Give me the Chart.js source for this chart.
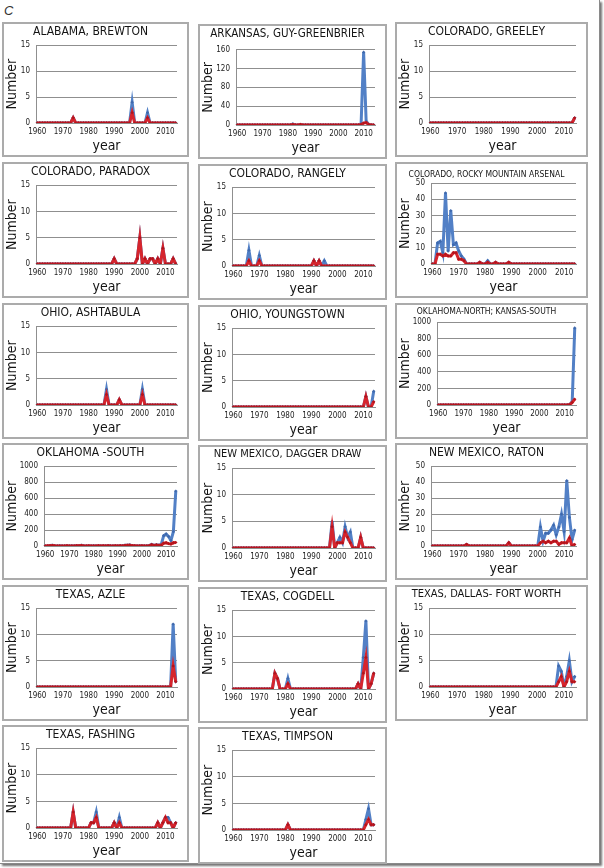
<!DOCTYPE html>
<html>
<head>
<meta charset="utf-8">
<script src="https://cdn.jsdelivr.net/npm/chart.js@4.4.0/dist/chart.umd.min.js"></script>
<style>
  body { margin: 0; background: #fff; }
  #page { position: relative; width: 604px; height: 868px; overflow: hidden; }
  #frame { position: absolute; left: 0; top: 0; width: 599px; height: 863px;
           border-right: 1px solid #8a8a8a; border-bottom: 1px solid #8a8a8a;
           box-shadow: 2px 2px 2px rgba(0,0,0,0.55); }
  #letter { position: absolute; left: 4px; top: 3px; font: italic 13px 'Liberation Sans', Arial, sans-serif; color: #333; }
  .panel { position: absolute; border: 2px solid #ababab; background: #fff; box-sizing: border-box; }
  .panel canvas { display: block; }
</style>
</head>
<body>
<div id="page">
  <div id="frame"></div>
  <div id="letter">C</div>
</div>
<script>
const years = [
  1960,1961,1962,1963,1964,1965,1966,1967,1968,1969,
  1970,1971,1972,1973,1974,1975,1976,1977,1978,1979,
  1980,1981,1982,1983,1984,1985,1986,1987,1988,1989,
  1990,1991,1992,1993,1994,1995,1996,1997,1998,1999,
  2000,2001,2002,2003,2004,2005,2006,2007,2008,2009,
  2010,2011,2012,2013,2014
];

// blue = total, red = drawn on top; one value per year 1960-2014
const brewtonBlue = [0,0,0,0,0,0,0,0,0,0, 0,0,0,0,1,0,0,0,0,0, 0,0,0,0,0,0,0,0,0,0, 0,0,0,0,0,0,0,4,0,0, 0,0,0,2,0,0,0,0,0,0, 0,0,0,0,0];
const brewtonRed  = [0,0,0,0,0,0,0,0,0,0, 0,0,0,0,1,0,0,0,0,0, 0,0,0,0,0,0,0,0,0,0, 0,0,0,0,0,0,0,2,0,0, 0,0,0,1,0,0,0,0,0,0, 0,0,0,0,0];

const guyBlue = [0,0,0,0,0,0,0,0,0,0, 0,0,0,0,0,0,0,0,0,0, 0,0,2,0,0,1,0,0,0,0, 0,0,0,0,0,0,0,0,0,0, 0,0,0,0,0,0,0,0,0,2, 155,8,1,0,0];
const guyRed  = [0,0,0,0,0,0,0,0,0,0, 0,0,0,0,0,0,0,0,0,0, 0,0,1,0,0,1,0,0,0,0, 0,0,0,0,0,0,0,0,0,0, 0,0,0,0,0,0,0,0,0,1, 4,5,1,0,0];

const greeleyBlue = [0,0,0,0,0,0,0,0,0,0, 0,0,0,0,0,0,0,0,0,0, 0,0,0,0,0,0,0,0,0,0, 0,0,0,0,0,0,0,0,0,0, 0,0,0,0,0,0,0,0,0,0, 0,0,0,0,1];
const greeleyRed  = [0,0,0,0,0,0,0,0,0,0, 0,0,0,0,0,0,0,0,0,0, 0,0,0,0,0,0,0,0,0,0, 0,0,0,0,0,0,0,0,0,0, 0,0,0,0,0,0,0,0,0,0, 0,0,0,0,1];

const paradoxBlue = [0,0,0,0,0,0,0,0,0,0, 0,0,0,0,0,0,0,0,0,0, 0,0,0,0,0,0,0,0,0,0, 1,0,0,0,0,0,0,0,0,1, 5,0,1,0,1,1,0,1,0,3, 0,0,0,1,0];
const paradoxRed  = [0,0,0,0,0,0,0,0,0,0, 0,0,0,0,0,0,0,0,0,0, 0,0,0,0,0,0,0,0,0,0, 1,0,0,0,0,0,0,0,0,1, 5,0,1,0,1,1,0,1,0,3, 0,0,0,1,0];

const rangelyBlue = [0,0,0,0,0,0,3,0,0,0, 2,0,0,0,0,0,0,0,0,0, 0,0,0,0,0,0,0,0,0,0, 0,1,0,1,0,1,0,0,0,0, 0,0,0,0,0,0,0,0,0,0, 0,0,0,0,0];
const rangelyRed  = [0,0,0,0,0,0,1,0,0,0, 1,0,0,0,0,0,0,0,0,0, 0,0,0,0,0,0,0,0,0,0, 0,1,0,1,0,0,0,0,0,0, 0,0,0,0,0,0,0,0,0,0, 0,0,0,0,0];

const rmaBlue = [0,0,13,14,7,44,8,33,12,13, 8,5,3,0,0,0,0,0,1,0, 0,2,0,0,1,0,0,0,0,1, 0,0,0,0,0,0,0,0,0,0, 0,0,0,0,0,0,0,0,0,0, 0,0,0,0,0];
const rmaRed  = [0,0,6,6,5,6,5,5,7,7, 3,3,2,0,0,0,0,0,1,0, 0,1,0,0,1,0,0,0,0,1, 0,0,0,0,0,0,0,0,0,0, 0,0,0,0,0,0,0,0,0,0, 0,0,0,0,0];

const ashtabulaBlue = [0,0,0,0,0,0,0,0,0,0, 0,0,0,0,0,0,0,0,0,0, 0,0,0,0,0,0,0,3,0,0, 0,0,1,0,0,0,0,0,0,0, 0,3,0,0,0,0,0,0,0,0, 0,0,0,0,0];
const ashtabulaRed  = [0,0,0,0,0,0,0,0,0,0, 0,0,0,0,0,0,0,0,0,0, 0,0,0,0,0,0,0,2,0,0, 0,0,1,0,0,0,0,0,0,0, 0,2,0,0,0,0,0,0,0,0, 0,0,0,0,0];

const youngstownBlue = [0,0,0,0,0,0,0,0,0,0, 0,0,0,0,0,0,0,0,0,0, 0,0,0,0,0,0,0,0,0,0, 0,0,0,0,0,0,0,0,0,0, 0,0,0,0,0,0,0,0,0,0, 0,2,0,0,3];
const youngstownRed  = [0,0,0,0,0,0,0,0,0,0, 0,0,0,0,0,0,0,0,0,0, 0,0,0,0,0,0,0,0,0,0, 0,0,0,0,0,0,0,0,0,0, 0,0,0,0,0,0,0,0,0,0, 0,2,0,0,1];

const oknBlue = [0,0,0,0,0,0,0,0,0,0, 0,0,0,0,0,0,0,0,0,0, 0,0,0,0,0,0,0,0,0,0, 0,0,0,0,0,0,0,0,0,0, 0,0,0,0,0,0,0,0,0,0, 0,0,5,40,930];
const oknRed  = [0,0,0,0,0,0,0,0,0,0, 0,0,0,0,0,0,0,0,0,0, 0,0,0,0,0,0,0,0,0,0, 0,0,0,0,0,0,0,0,0,0, 0,0,0,0,0,0,0,0,0,0, 0,0,5,30,70];

const oksBlue = [0,2,5,8,3,0,2,0,0,4, 0,2,0,5,3,8,2,0,3,0, 2,0,4,0,3,0,5,2,0,3, 0,4,2,8,10,12,5,3,0,2, 3,0,2,5,20,8,15,10,20,130, 150,120,70,180,690];
const oksRed  = [0,2,4,6,2,0,1,0,0,3, 0,1,0,4,2,6,1,0,2,0, 1,0,3,0,2,0,4,1,0,2, 0,3,1,6,8,10,4,2,0,1, 2,0,1,4,15,6,12,8,10,35, 40,30,25,40,45];

const daggerBlue = [0,0,0,0,0,0,0,0,0,0, 0,0,0,0,0,0,0,0,0,0, 0,0,0,0,0,0,0,0,0,0, 0,0,0,0,0,0,0,0,5,0, 1,2,1,4,2,3,0,0,0,2, 0,0,0,0,0];
const daggerRed  = [0,0,0,0,0,0,0,0,0,0, 0,0,0,0,0,0,0,0,0,0, 0,0,0,0,0,0,0,0,0,0, 0,0,0,0,0,0,0,0,4,0, 1,1,1,3,2,1,0,0,0,2, 0,0,0,0,0];

const ratonBlue = [0,0,0,0,0,0,0,0,0,0, 0,0,0,1,0,0,0,0,0,0, 0,0,0,0,0,0,0,0,0,2, 0,0,0,0,0,0,0,0,0,0, 0,12,3,8,8,10,13,7,12,20, 9,41,18,4,10];
const ratonRed  = [0,0,0,0,0,0,0,0,0,0, 0,0,0,1,0,0,0,0,0,0, 0,0,0,0,0,0,0,0,0,2, 0,0,0,0,0,0,0,0,0,0, 0,2,3,2,3,2,3,3,1,2, 2,2,5,0,1];

const azleBlue = [0,0,0,0,0,0,0,0,0,0, 0,0,0,0,0,0,0,0,0,0, 0,0,0,0,0,0,0,0,0,0, 0,0,0,0,0,0,0,0,0,0, 0,0,0,0,0,0,0,0,0,0, 0,0,0,12,1];
const azleRed  = [0,0,0,0,0,0,0,0,0,0, 0,0,0,0,0,0,0,0,0,0, 0,0,0,0,0,0,0,0,0,0, 0,0,0,0,0,0,0,0,0,0, 0,0,0,0,0,0,0,0,0,0, 0,0,0,4,1];

const cogdellBlue = [0,0,0,0,0,0,0,0,0,0, 0,0,0,0,0,0,3,2,0,0, 0,2,0,0,0,0,0,0,0,0, 0,0,0,0,0,0,0,0,0,0, 0,0,0,0,0,0,0,0,1,0, 6,13,0,1,3];
const cogdellRed  = [0,0,0,0,0,0,0,0,0,0, 0,0,0,0,0,0,3,2,0,0, 0,1,0,0,0,0,0,0,0,0, 0,0,0,0,0,0,0,0,0,0, 0,0,0,0,0,0,0,0,1,0, 3,6,0,1,3];

const dfwBlue = [0,0,0,0,0,0,0,0,0,0, 0,0,0,0,0,0,0,0,0,0, 0,0,0,0,0,0,0,0,0,0, 0,0,0,0,0,0,0,0,0,0, 0,0,0,0,0,0,0,0,4,3, 0,2,5,1,2];
const dfwRed  = [0,0,0,0,0,0,0,0,0,0, 0,0,0,0,0,0,0,0,0,0, 0,0,0,0,0,0,0,0,0,0, 0,0,0,0,0,0,0,0,0,0, 0,0,0,0,0,0,0,0,1,2, 0,1,3,1,1];

const fashingBlue = [0,0,0,0,0,0,0,0,0,0, 0,0,0,0,3,0,0,0,0,0, 0,1,1,3,0,0,0,0,0,0, 1,0,2,0,0,0,0,0,0,0, 0,0,0,0,0,0,0,1,0,1, 2,2,1,0,1];
const fashingRed  = [0,0,0,0,0,0,0,0,0,0, 0,0,0,0,3,0,0,0,0,0, 0,1,1,2,0,0,0,0,0,0, 1,0,1,0,0,0,0,0,0,0, 0,0,0,0,0,0,0,1,0,1, 2,1,1,0,1];

const timpsonBlue = [0,0,0,0,0,0,0,0,0,0, 0,0,0,0,0,0,0,0,0,0, 0,1,0,0,0,0,0,0,0,0, 0,0,0,0,0,0,0,0,0,0, 0,0,0,0,0,0,0,0,0,0, 0,2,4,1,1];
const timpsonRed  = [0,0,0,0,0,0,0,0,0,0, 0,0,0,0,0,0,0,0,0,0, 0,1,0,0,0,0,0,0,0,0, 0,0,0,0,0,0,0,0,0,0, 0,0,0,0,0,0,0,0,0,0, 0,1,2,1,1];

const panels = [
  { title: 'ALABAMA, BREWTON', blue: brewtonBlue, red: brewtonRed, max: 15, step: 5 },
  { title: 'ARKANSAS, GUY-GREENBRIER', blue: guyBlue, red: guyRed, max: 160, step: 20 },
  { title: 'COLORADO, GREELEY', blue: greeleyBlue, red: greeleyRed, max: 15, step: 5 },
  { title: 'COLORADO, PARADOX', blue: paradoxBlue, red: paradoxRed, max: 15, step: 5 },
  { title: 'COLORADO, RANGELY', blue: rangelyBlue, red: rangelyRed, max: 15, step: 5 },
  { title: 'COLORADO, ROCKY MOUNTAIN ARSENAL', blue: rmaBlue, red: rmaRed, max: 50, step: 10 },
  { title: 'OHIO, ASHTABULA', blue: ashtabulaBlue, red: ashtabulaRed, max: 15, step: 5 },
  { title: 'OHIO, YOUNGSTOWN', blue: youngstownBlue, red: youngstownRed, max: 15, step: 5 },
  { title: 'OKLAHOMA-NORTH; KANSAS-SOUTH', blue: oknBlue, red: oknRed, max: 1000, step: 200 },
  { title: 'OKLAHOMA -SOUTH', blue: oksBlue, red: oksRed, max: 1000, step: 200 },
  { title: 'NEW MEXICO, DAGGER DRAW', blue: daggerBlue, red: daggerRed, max: 15, step: 5 },
  { title: 'NEW MEXICO, RATON', blue: ratonBlue, red: ratonRed, max: 50, step: 10 },
  { title: 'TEXAS, AZLE', blue: azleBlue, red: azleRed, max: 15, step: 5 },
  { title: 'TEXAS, COGDELL', blue: cogdellBlue, red: cogdellRed, max: 15, step: 5 },
  { title: 'TEXAS, DALLAS- FORT WORTH', blue: dfwBlue, red: dfwRed, max: 15, step: 5 },
  { title: 'TEXAS, FASHING', blue: fashingBlue, red: fashingRed, max: 15, step: 5 },
  { title: 'TEXAS, TIMPSON', blue: timpsonBlue, red: timpsonRed, max: 15, step: 5 }
];

// page layout
const colX = [2, 198, 395];
const colW = [187, 189, 193];
const rowY = [22, 162, 303, 443, 585, 725];
const rowH = [135, 136, 136, 137, 136, 137];

// title styling per panel (size, pad top, pad bottom)
const titleStyle = {
  'ARKANSAS, GUY-GREENBRIER': [11.5, 1, 9],
  'COLORADO, ROCKY MOUNTAIN ARSENAL': [8.5, 6, 3],
  'OKLAHOMA-NORTH; KANSAS-SOUTH': [8.5, 2, 5],
  'NEW MEXICO, DAGGER DRAW': [11, 1, 7],
  'TEXAS, DALLAS- FORT WORTH': [11, 1, 7]
};
const yAxisWidth = { 15: 32, 50: 34, 160: 36, 1000: 40 };

const FONT = "'Liberation Sans Narrow', 'DejaVu Sans Condensed', 'Liberation Sans', Arial, sans-serif";
const BLUE = '#5280c6';
const BLUE_PT = '#3f69ad';
const RED = '#d6252d';
const RED_PT = '#b3141c';
const GRID = '#8f8f8f';

const page = document.getElementById('page');

panels.forEach((p, i) => {
  const col = i % 3, row = Math.floor(i / 3);
  const box = document.createElement('div');
  box.className = 'panel';
  const w = colW[col], h = rowH[row];
  box.style.left = colX[col] + 'px';
  box.style.top = (rowY[row] + (col === 1 ? 2 : 0)) + 'px';
  box.style.width = w + 'px';
  box.style.height = h + 'px';
  const cv = document.createElement('canvas');
  cv.width = w - 4;
  cv.height = h - 4;
  box.appendChild(cv);
  page.appendChild(box);

  const ts = titleStyle[p.title] || [12, 1, 6];
  const yw = yAxisWidth[p.max];

  new Chart(cv, {
    type: 'line',
    data: {
      labels: years,
      datasets: [
        {
          data: p.red, borderColor: RED, backgroundColor: RED, borderWidth: 3,
          pointRadius: 1.7, pointStyle: 'rectRot', pointBackgroundColor: RED_PT,
          pointBorderWidth: 0, tension: 0, order: 1
        },
        {
          data: p.blue, borderColor: BLUE, backgroundColor: BLUE, borderWidth: 3,
          pointRadius: 1.7, pointStyle: 'rectRot', pointBackgroundColor: BLUE_PT,
          pointBorderWidth: 0, tension: 0, order: 2
        }
      ]
    },
    options: {
      responsive: false,
      animation: false,
      devicePixelRatio: 1,
      layout: { padding: { top: 0, right: 10, bottom: 0, left: 0 } },
      plugins: {
        legend: { display: false },
        tooltip: { enabled: false },
        title: {
          display: true,
          text: p.title,
          color: '#141414',
          font: { family: FONT, size: ts[0], weight: 'normal' },
          padding: { top: ts[1], bottom: ts[2] }
        }
      },
      scales: {
        x: {
          type: 'category',
          offset: true,
          grid: { display: false, drawTicks: false },
          border: { display: true, color: GRID },
          ticks: {
            autoSkip: false,
            maxRotation: 0,
            padding: 4,
            color: '#222',
            font: { family: FONT, size: 8 },
            callback: (v, idx) => (years[idx] % 10 === 0 ? String(years[idx]) : '')
          },
          title: {
            display: true, text: 'year', color: '#141414',
            font: { family: FONT, size: 14 }, padding: { top: 0, bottom: 0 }
          },
          afterFit: (s) => { s.height = 32; }
        },
        y: {
          min: 0,
          max: p.max,
          ticks: {
            stepSize: p.step, padding: 6, color: '#222',
            font: { family: FONT, size: 8 },
            callback: (v) => String(v)
          },
          grid: { color: GRID, lineWidth: 1, drawTicks: false },
          border: { display: true, color: GRID },
          title: {
            display: true, text: 'Number', color: '#141414',
            font: { family: FONT, size: 14 }, padding: 0
          },
          afterFit: (s) => { s.width = yw; }
        }
      }
    }
  });
});
</script>
</body>
</html>
